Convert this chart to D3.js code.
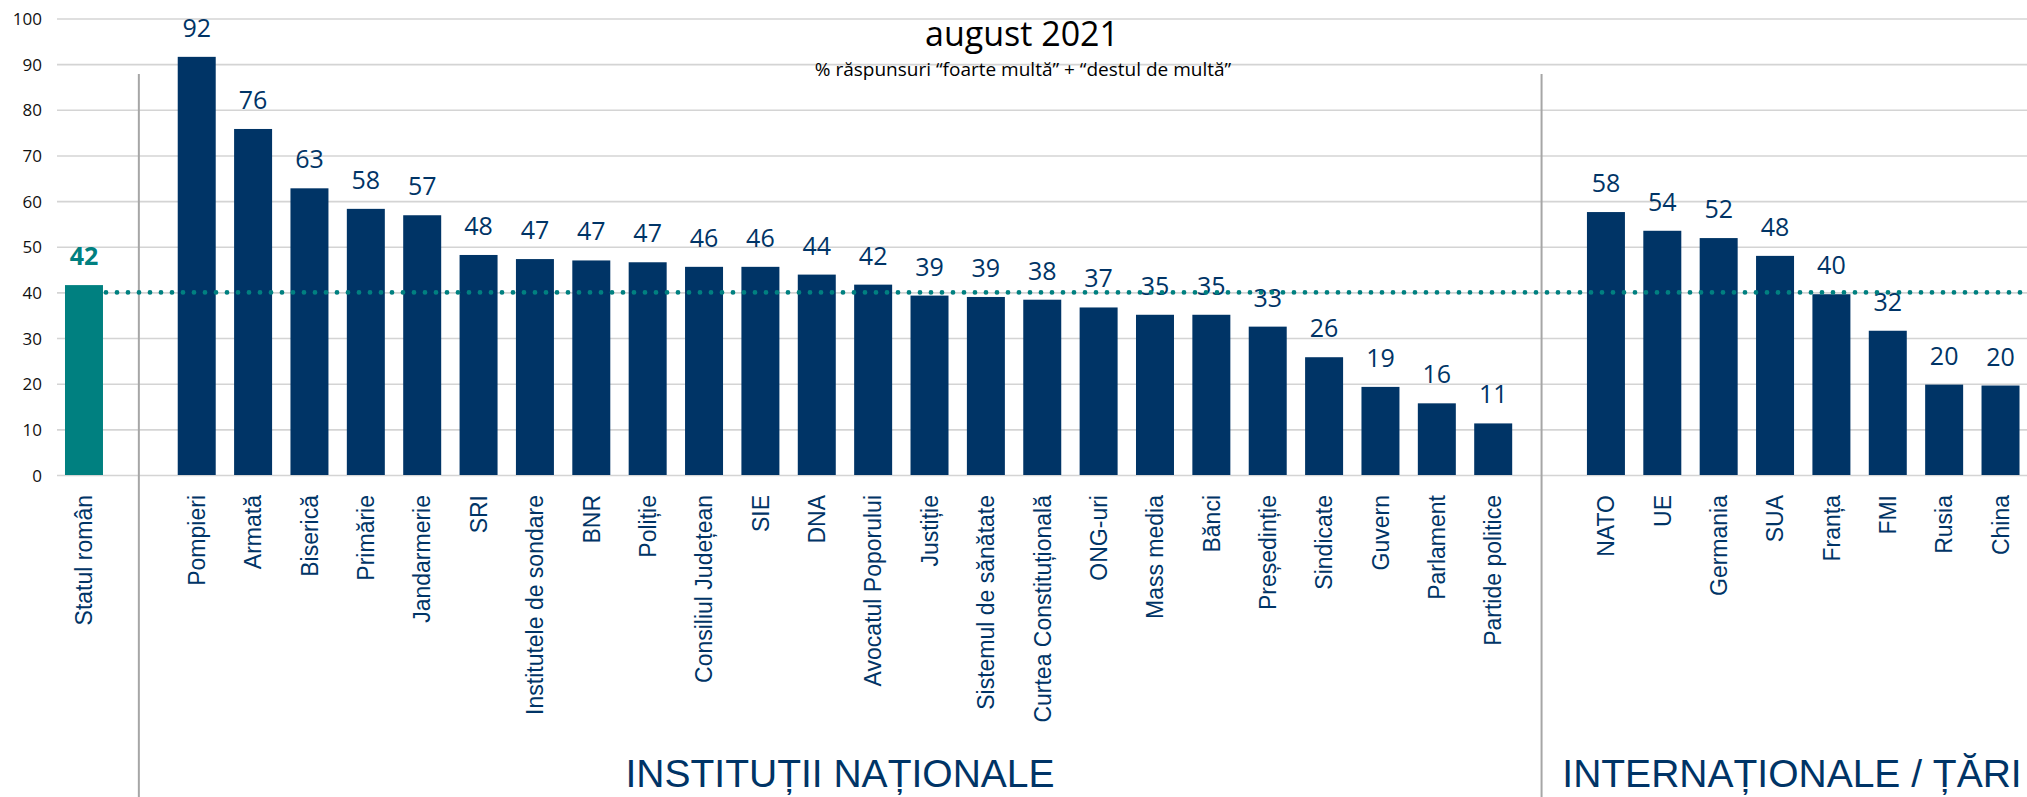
<!DOCTYPE html>
<html>
<head>
<meta charset="utf-8">
<script src="https://cdn.jsdelivr.net/npm/d3@7"></script>
<style>
  body { margin: 0; background: #fff; }
  svg { display: block; }
</style>
</head>
<body>
<svg id="chart"></svg>
<script>
// reference value (statul roman) + the 40% threshold line
const refCategory = "Statul român";
const refValue = 41.6;
const thresholdValue = 40;

const nationalCategories = [
    "Pompieri", "Armată", "Biserică", "Primărie", "Jandarmerie", "SRI",
    "Institutele de sondare", "BNR", "Poliție", "Consiliul Județean", "SIE", "DNA",
    "Avocatul Poporului", "Justiție", "Sistemul de sănătate", "Curtea Constituțională",
    "ONG-uri", "Mass media", "Bănci", "Președinție", "Sindicate", "Guvern",
    "Parlament", "Partide politice"
];
const nationalValues = [
    91.6, 75.8, 62.8, 58.3, 56.9, 48.2,
    47.3, 47.0, 46.6, 45.6, 45.6, 43.9,
    41.7, 39.3, 39.0, 38.4, 36.7, 35.1,
    35.1, 32.5, 25.8, 19.3, 15.7, 11.3
];

const internationalCategories = ["NATO", "UE", "Germania", "SUA", "Franța", "FMI", "Rusia", "China"];
const internationalValues = [57.6, 53.5, 51.9, 48.0, 39.6, 31.6, 19.8, 19.6];

const yTicks = [0, 10, 20, 30, 40, 50, 60, 70, 80, 90, 100];

const titleText = "august 2021";
const subtitleText = "% răspunsuri “foarte multă” + “destul de multă”";
const groupTitles = ["INSTITUȚII NAȚIONALE", "INTERNAȚIONALE / ȚĂRI"];

const width = 2027, height = 797;
const navy = "#003466", teal = "#008080";

const svg = d3.select("#chart").attr("width", width).attr("height", height);

// one slot per category, with two empty slots used as separators
const slots = [refCategory, "_gap1", ...nationalCategories, "_gap2", ...internationalCategories];

const bars = [{ name: refCategory, value: refValue, ref: true }]
    .concat(nationalCategories.map((c, i) => ({ name: c, value: nationalValues[i] })))
    .concat(internationalCategories.map((c, i) => ({ name: c, value: internationalValues[i] })));

const x = d3.scaleBand()
    .domain(slots)
    .range([55.8, 2028.7])
    .paddingInner(0.326)
    .paddingOuter(0.163);

const y = d3.scaleLinear()
    .domain([0, 100])
    .range([475, 18.5]);

// gridlines
const yAxis = d3.axisLeft(y).tickValues(yTicks).tickSize(-(width - 57)).tickPadding(15);
const yAxisGroup = svg.append("g")
    .attr("transform", "translate(57,0)")
    .call(yAxis);
yAxisGroup.select(".domain").remove();
yAxisGroup.selectAll(".tick line")
    .attr("stroke", "#d4d4d4")
    .attr("stroke-width", 1.6);
yAxisGroup.selectAll(".tick text")
    .attr("font-family", "Open Sans")
    .attr("font-size", 17)
    .attr("fill", "#111")
    .attr("dy", "0.36em");

// titles
svg.append("text")
    .attr("x", 1022).attr("y", 46)
    .attr("text-anchor", "middle")
    .attr("font-family", "Open Sans")
    .attr("font-size", 34)
    .attr("fill", "#000")
    .text(titleText);

svg.append("text")
    .attr("x", 1023).attr("y", 76)
    .attr("text-anchor", "middle")
    .attr("font-family", "Open Sans")
    .attr("font-size", 19)
    .attr("fill", "#000")
    .text(subtitleText);

// group separators
const sepX = [x("_gap1") + x.bandwidth() / 2 - 1.5, x("_gap2") + x.bandwidth() / 2 - 8];
svg.selectAll(".sep")
    .data(sepX)
    .join("line")
    .attr("class", "sep")
    .attr("x1", d => d).attr("x2", d => d)
    .attr("y1", 74).attr("y2", height)
    .attr("stroke", "#a6a6a6")
    .attr("stroke-width", 2);

// bars
svg.selectAll(".bar")
    .data(bars)
    .join("rect")
    .attr("class", "bar")
    .attr("x", d => x(d.name))
    .attr("y", d => y(d.value))
    .attr("width", x.bandwidth())
    .attr("height", d => y(0) - y(d.value))
    .attr("fill", d => d.ref ? teal : navy);

// value labels
svg.selectAll(".val")
    .data(bars)
    .join("text")
    .attr("class", "val")
    .attr("x", d => x(d.name) + x.bandwidth() / 2)
    .attr("y", d => y(d.value) - 20)
    .attr("text-anchor", "middle")
    .attr("font-family", "Open Sans")
    .attr("font-size", 25)
    .attr("font-weight", d => d.ref ? "bold" : "normal")
    .attr("fill", d => d.ref ? teal : navy)
    .text(d => d3.format(".0f")(d.value));

// threshold dotted line
svg.append("line")
    .attr("x1", x(refCategory) + x.bandwidth() + 3)
    .attr("x2", width)
    .attr("y1", y(thresholdValue)).attr("y2", y(thresholdValue))
    .attr("stroke", teal)
    .attr("stroke-width", 4.8)
    .attr("stroke-linecap", "round")
    .attr("stroke-dasharray", "0 11");

// category labels
svg.selectAll(".cat")
    .data(bars)
    .join("text")
    .attr("class", "cat")
    .attr("transform", d => `translate(${x(d.name) + x.bandwidth() / 2},495) rotate(-90)`)
    .attr("dy", "0.36em")
    .attr("text-anchor", "end")
    .attr("font-family", "Liberation Sans")
    .attr("font-size", 23)
    .attr("fill", navy)
    .text(d => d.name);

// group titles
svg.selectAll(".group")
    .data(groupTitles)
    .join("text")
    .attr("class", "group")
    .attr("x", (d, i) => i === 0 ? 840 : 1792)
    .attr("y", 787)
    .attr("text-anchor", "middle")
    .attr("font-family", "Liberation Sans")
    .attr("font-size", 39)
    .attr("fill", navy)
    .text(d => d);
</script>
</body>
</html>
